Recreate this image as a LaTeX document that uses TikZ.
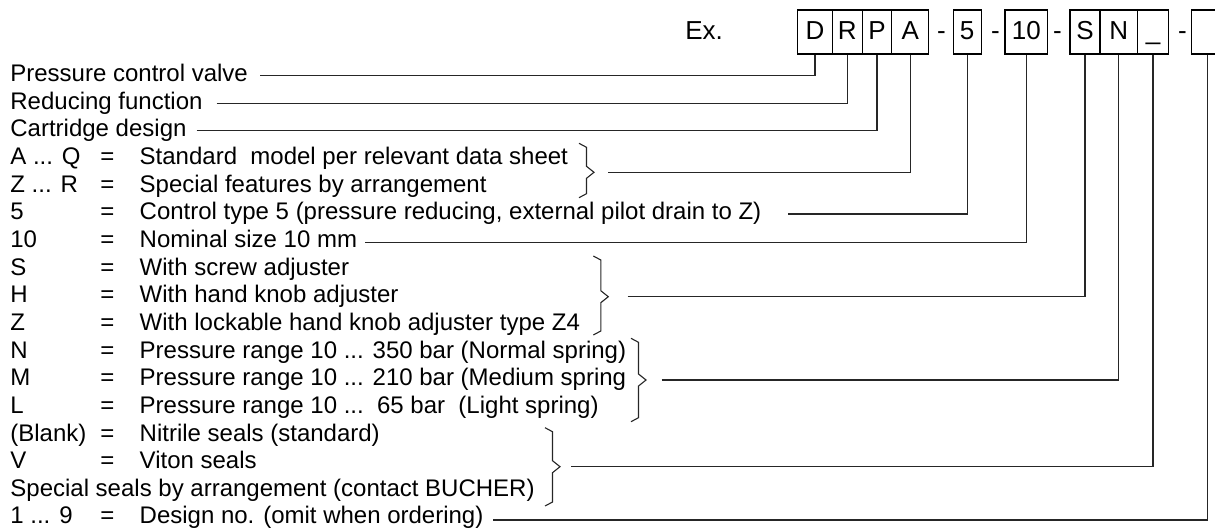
\documentclass[tikz,border=0pt]{standalone}
\usepackage{fontspec}
\setmainfont{Liberation Sans}
\newcommand\rowy[1]{81.7+27.64*#1}
\newcommand\coderow[4]{%
  \node[txt] (#1c) at (10,{\rowy{#2}}) {#3};
  \node[eqs] (#1e) at (107.5,{\rowy{#2}}) {=};
  \node[txt] (#1d) at (139.3,{\rowy{#2}}) {#4};}
\newcommand\groupbrace[4]{% x of ends, top, bottom, tip y
  \draw[conn] (#1,#2) -- ({#1+7.5},{#2+4}) -- ({#1+7.5},{#4-6}) -- ({#1+15},#4)
    -- ({#1+7.5},{#4+6}) -- ({#1+7.5},{#3-4}) -- (#1,#3);}
\tikzset{
  txt/.style={anchor=base west, inner sep=0pt, font=\fontsize{12pt}{14pt}\selectfont},
  eqs/.style={anchor=base, inner sep=0pt, font=\fontsize{12pt}{14pt}\selectfont},
  codebox/.style={draw, line width=0.55pt, minimum height=22pt, inner sep=0pt,
    text height=7.3pt, text depth=0pt, font=\fontsize{13pt}{15pt}\selectfont},
  hy/.style={anchor=base, inner sep=0pt, font=\fontsize{13pt}{15pt}\selectfont},
  conn/.style={line width=0.55pt, black!85},
}
\begin{document}
\begin{tikzpicture}[x=0.5pt,y=-0.5pt]
\useasboundingbox (0,0) rectangle (1215,530);
\clip (0,0) rectangle (1215,530);
% code boxes
\node[hy, anchor=base east] (ex) at (723.3,39.3) {Ex.};
\node[codebox, minimum width=17.3pt] (bD) at (815,32) {D};
\node[codebox, minimum width=15pt] (bR) at (847.3,32) {R};
\node[codebox, minimum width=14.7pt] (bP) at (877,32) {P};
\node[codebox, minimum width=18.5pt] (bA) at (910.2,32) {A};
\node[hy] (h1) at (941.5,39.3) {-};
\node[codebox, minimum width=13.85pt] (b5) at (967.2,32) {5};
\node[hy] (h2) at (995.5,39.3) {-};
\node[codebox, minimum width=21.35pt] (b10) at (1026.3,32) {10};
\node[hy] (h3) at (1057.5,39.3) {-};
\node[codebox, minimum width=15pt] (bS) at (1085,32) {S};
\node[codebox, minimum width=18.85pt] (bN) at (1118.8,32) {N};
\node[codebox, minimum width=15.3pt] (bU) at (1153,32) {\_};
\node[hy] (h4) at (1182.5,39.3) {-};
\node[codebox, minimum width=15.85pt] (bL) at (1207.2,32) {};
% rows
\node[txt] (t0) at (10,{\rowy{0}}) {Pressure control valve};
\node[txt] (t1) at (10,{\rowy{1}}) {Reducing function};
\node[txt] (t2) at (10,{\rowy{2}}) {Cartridge design};
\coderow{r3}{3}{A ... Q}{Standard\ \ model per relevant data sheet}
\coderow{r4}{4}{Z ... R}{Special features by arrangement}
\coderow{r5}{5}{5}{Control type 5 (pressure reducing, external pilot drain to Z)}
\coderow{r6}{6}{10}{Nominal size 10 mm}
\coderow{r7}{7}{S}{With screw adjuster}
\coderow{r8}{8}{H}{With hand knob adjuster}
\coderow{r9}{9}{Z}{With lockable hand knob adjuster type Z4}
\coderow{r10}{10}{N}{Pressure range 10 ... 350 bar (Normal spring)}
\coderow{r11}{11}{M}{Pressure range 10 ... 210 bar (Medium spring}
\coderow{r12}{12}{L}{Pressure range 10 ...\ \ 65 bar\ \ (Light spring)}
\coderow{r13}{13}{(Blank)}{Nitrile seals (standard)}
\coderow{r14}{14}{V}{Viton seals}
\node[txt] (t15) at (10,{\rowy{15}}) {Special seals by arrangement (contact BUCHER)};
\coderow{r16}{16}{1 ... 9}{Design no. (omit when ordering)}
% braces
\groupbrace{579}{143.3}{197.7}{172.3}
\groupbrace{593.3}{256}{335}{296.7}
\groupbrace{631}{338.3}{421.7}{380}
\groupbrace{545}{427.7}{506}{466.7}
% connector starts
\coordinate (sD) at (260,75.7);
\coordinate (sR) at (216.7,103.3);
\coordinate (sP) at (196.7,130.5);
\coordinate (sA) at (608.3,172.3);
\coordinate (s5) at (788.3,214);
\coordinate (s10) at (365,242.3);
\coordinate (sS) at (627.7,296.7);
\coordinate (sN) at (661.7,380);
\coordinate (sU) at (571,466.7);
\coordinate (sL) at (493,520);
\draw[conn] (sD) -| (bD.south);
\draw[conn] (sR) -| (bR.south);
\draw[conn] (sP) -| (bP.south);
\draw[conn] (sA) -| (bA.south);
\draw[conn] (s5) -| (b5.south);
\draw[conn] (s10) -| (b10.south);
\draw[conn] (sS) -| (bS.south);
\draw[conn] (sN) -| (bN.south);
\draw[conn] (sU) -| (bU.south);
\draw[conn] (sL) -| (bL.south);
\end{tikzpicture}
\end{document}
